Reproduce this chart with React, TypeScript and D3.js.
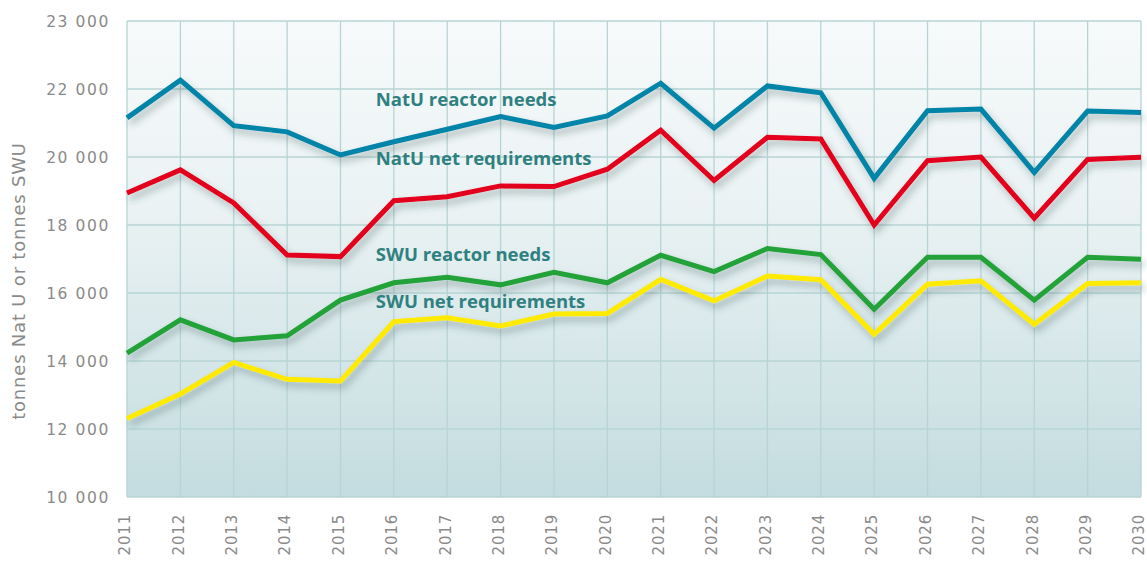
import React from 'react';
import * as d3 from 'd3';

const years = [2011, 2012, 2013, 2014, 2015, 2016, 2017, 2018, 2019, 2020,
  2021, 2022, 2023, 2024, 2025, 2026, 2027, 2028, 2029, 2030];

const natuReactor = [21150, 22260, 20920, 20740, 20060, 20450, 20815, 21190, 20870, 21210,
  22170, 20850, 22090, 21890, 19370, 21360, 21410, 19550, 21350, 21310];
const natuNet = [18940, 19620, 18650, 17120, 17070, 18715, 18830, 19150, 19130, 19640,
  20790, 19310, 20580, 20530, 18000, 19890, 20000, 18200, 19930, 19990];
const swuReactor = [14230, 15210, 14620, 14740, 15790, 16300, 16460, 16240, 16610, 16300,
  17110, 16630, 17310, 17130, 15520, 17050, 17050, 15790, 17050, 16990];
const swuNet = [12310, 13030, 13960, 13460, 13410, 15160, 15270, 15030, 15380, 15400,
  16400, 15770, 16500, 16390, 14790, 16260, 16360, 15080, 16280, 16300];

const yTicks = [10000, 12000, 14000, 16000, 18000, 20000, 22000, 24000];
const yTickLabels = ['10 000', '12 000', '14 000', '16 000', '18 000', '20 000', '22 000', '23 000'];

const series = [
  { name: 'NatU reactor needs', values: natuReactor, color: '#0084a8' },
  { name: 'NatU net requirements', values: natuNet, color: '#e3001b' },
  { name: 'SWU reactor needs', values: swuReactor, color: '#22a238' },
  { name: 'SWU net requirements', values: swuNet, color: '#ffea00' },
];

// label anchors: [year, value]
const labelPos: [number, number][] = [
  [2016, 21500],
  [2016, 19760],
  [2016, 16950],
  [2016, 15570],
];

const width = 1147;
const height = 561;
const margin = { top: 21, right: 6, bottom: 64, left: 127 };

export default function App() {
  const innerW = width - margin.left - margin.right;
  const innerH = height - margin.top - margin.bottom;

  const x = d3.scaleLinear().domain([2011, 2030]).range([0, innerW]);
  const y = d3.scaleLinear().domain([10000, 24000]).range([innerH, 0]);

  const line = d3.line<number>()
    .x((_, i) => x(years[i]))
    .y(d => y(d));

  const tickFont = "'DejaVu Sans', Verdana, sans-serif";
  const labelFont = "'Open Sans', Arial, sans-serif";

  return (
    <svg width={width} height={height} style={{ position: 'absolute', left: 0, top: 0 }}>
      <defs>
        <linearGradient id="bg" x1="0" y1="0" x2="0" y2="1">
          <stop offset="0%" stopColor="#f7fafb" />
          <stop offset="40%" stopColor="#eaf2f3" />
          <stop offset="100%" stopColor="#c3dcdf" />
        </linearGradient>
        <filter id="shadow" x="-10%" y="-20%" width="130%" height="160%">
          <feDropShadow dx="3" dy="5" stdDeviation="3.5" floodColor="#26484c" floodOpacity="0.35" />
        </filter>
      </defs>
      <rect x={0} y={0} width={width} height={height} fill="#ffffff" />
      <g transform={`translate(${margin.left},${margin.top})`}>
        <rect x={0} y={0} width={innerW} height={innerH} fill="url(#bg)" />
        {years.map(yr => (
          <line key={yr} x1={x(yr)} x2={x(yr)} y1={0} y2={innerH} stroke="#b7d4d5" strokeWidth={1.3} />
        ))}
        {yTicks.map(t => (
          <line key={t} x1={0} x2={innerW} y1={y(t)} y2={y(t)} stroke="#b7d4d5" strokeWidth={1.3} />
        ))}
        {yTicks.map((t, i) => (
          <text key={t} x={-17} y={y(t)} dy="0.36em" textAnchor="end" fontFamily={tickFont}
            fontSize={15.5} fill="#8a8a8a" letterSpacing={1.6}>{yTickLabels[i]}</text>
        ))}
        {years.map(yr => (
          <text key={yr} transform={`translate(${x(yr)},${innerH + 17}) rotate(-90)`} textAnchor="end"
            dy="0.22em" fontFamily={tickFont} fontSize={15} fill="#8a8a8a" letterSpacing={0.8}>{yr}</text>
        ))}
        {series.map(s => (
          <path key={s.name} d={line(s.values) || ''} fill="none" stroke={s.color} strokeWidth={5}
            strokeLinejoin="miter" filter="url(#shadow)" />
        ))}
        {series.map((s, i) => (
          <text key={s.name} x={x(labelPos[i][0]) - 18} y={y(labelPos[i][1])} fontFamily={labelFont}
            fontSize={18.5} fontWeight="bold" fill="#2f8080">{s.name}</text>
        ))}
      </g>
      <text transform={`translate(25,${margin.top + innerH / 2 + 22}) rotate(-90)`} textAnchor="middle"
        fontFamily={tickFont} fontSize={18} fill="#8a8a8a" letterSpacing={0.8}>tonnes Nat U or tonnes SWU</text>
    </svg>
  );
}
